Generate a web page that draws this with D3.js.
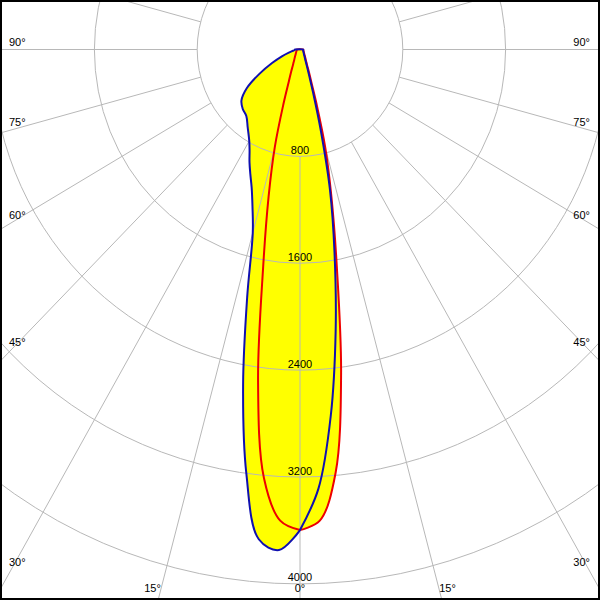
<!DOCTYPE html>
<html>
<head>
<meta charset="utf-8">
<script src="https://cdn.jsdelivr.net/npm/d3@7"></script>
<style>
  html, body { margin: 0; padding: 0; background: #fff; }
  svg { display: block; }
  text { font-family: "Liberation Sans", Arial, sans-serif; font-size: 11px; fill: #000; }
</style>
</head>
<body>
<svg id="chart" width="600" height="600"></svg>
<script>
// gamma angles (degrees from nadir)
const gammas = [0, 2.5, 5, 7.5, 10, 12.5, 15, 17.5, 20, 22.5, 25, 27.5, 30, 35, 40, 45, 50, 55, 60, 65, 70, 75, 80, 85, 90];
// C0 half-plane (right, blue)
const c0   = [3597, 3290, 2750, 2126, 1548, 1080, 620, 340, 210, 150, 115, 92, 78, 60, 48, 42, 37, 33, 30, 28, 27, 26, 25, 25, 25];
// C180 half-plane (left, blue)
const c180 = [3597, 3750, 3680, 3200, 2550, 1900, 1420, 1230, 1100, 1010, 930, 850, 790, 710, 650, 630, 595, 506, 365, 240, 150, 90, 55, 42, 38];
// C90 half-plane (right, red)
const c90  = [3597, 3530, 3180, 2450, 1650, 1130, 760, 430, 253, 180, 132, 108, 90, 70, 56, 47, 41, 37, 34, 31, 29, 27, 26, 25, 25];
// C270 half-plane (left, red)
const c270 = [3597, 3530, 3220, 2500, 1650, 1130, 760, 430, 253, 180, 132, 108, 90, 70, 56, 47, 41, 37, 34, 31, 29, 27, 26, 25, 25];

const intensityTicks = [800, 1600, 2400, 3200, 4000];
const angleTicks = [90, 75, 60, 45, 30, 15, 0];
const gridAngles = d3.range(0, 360, 15);

const W = 600, H = 600;
const cx = 300, cy = 49.5;
const rx = d3.scaleLinear().domain([0, 4000]).range([0, 514]);
const ry = d3.scaleLinear().domain([0, 4000]).range([0, 534.4]);

function pt(g, I, side) {
  const a = g * Math.PI / 180;
  return [cx + side * rx(I) * Math.sin(a), cy + ry(I) * Math.cos(a)];
}

const svg = d3.select("#chart");
svg.append("rect").attr("width", W).attr("height", H).attr("fill", "#fff");

const line = d3.line().curve(d3.curveCatmullRomClosed.alpha(0.5));

const bluePts = gammas.map((g, i) => pt(g, c0[i], 1)).reverse()
  .concat(gammas.map((g, i) => pt(g, c180[i], -1)));
const redPts = gammas.map((g, i) => pt(g, c90[i], 1)).reverse()
  .concat(gammas.map((g, i) => pt(g, c270[i], -1)));

// fills
svg.append("path").attr("d", line(redPts)).attr("fill", "#ffff00").attr("stroke", "none");
svg.append("path").attr("d", line(bluePts)).attr("fill", "#ffff00").attr("stroke", "none");

// grid
const grid = svg.append("g").attr("stroke", "#b8b8b8").attr("stroke-width", 1).attr("fill", "none");
grid.selectAll("ellipse").data(intensityTicks).join("ellipse")
  .attr("cx", cx).attr("cy", cy)
  .attr("rx", d => rx(d)).attr("ry", d => ry(d));
grid.selectAll("line").data(gridAngles).join("line")
  .attr("x1", d => pt(d, intensityTicks[0], 1)[0])
  .attr("y1", d => pt(d, intensityTicks[0], 1)[1])
  .attr("x2", d => pt(d, 9000, 1)[0])
  .attr("y2", d => pt(d, 9000, 1)[1]);

// curves
svg.append("path").attr("d", line(redPts)).attr("fill", "none")
  .attr("stroke", "#ee0000").attr("stroke-width", 2).attr("stroke-linejoin", "round");
svg.append("path").attr("d", line(bluePts)).attr("fill", "none")
  .attr("stroke", "#1010b0").attr("stroke-width", 2).attr("stroke-linejoin", "round");

// intensity labels
svg.selectAll("text.int").data(intensityTicks).join("text")
  .attr("class", "int")
  .attr("x", cx).attr("y", d => cy + ry(d) - 2.5)
  .attr("text-anchor", "middle")
  .text(d => d);

// angle labels
const side = [];
angleTicks.forEach(a => {
  const rad = a * Math.PI / 180;
  const yEdge = a > 0 ? cy + 300 * Math.cos(rad) / Math.sin(rad) : Infinity;
  if (yEdge < 580) {
    side.push({t: a + "°", x: 9, y: yEdge - 3.5, anchor: "start"});
    side.push({t: a + "°", x: 590, y: yEdge - 3.5, anchor: "end"});
  } else {
    const dx = (H - cy) * Math.tan(rad);
    if (a === 0) {
      side.push({t: a + "°", x: cx, y: 592, anchor: "middle"});
    } else {
      side.push({t: a + "°", x: cx - dx, y: 592, anchor: "middle"});
      side.push({t: a + "°", x: cx + dx, y: 592, anchor: "middle"});
    }
  }
});
svg.selectAll("text.ang").data(side).join("text")
  .attr("class", "ang")
  .attr("x", d => d.x).attr("y", d => d.y)
  .attr("text-anchor", d => d.anchor)
  .text(d => d.t);

// border
svg.append("rect").attr("x", 1).attr("y", 1).attr("width", W - 2).attr("height", H - 2)
  .attr("fill", "none").attr("stroke", "#000").attr("stroke-width", 2);
</script>
</body>
</html>
